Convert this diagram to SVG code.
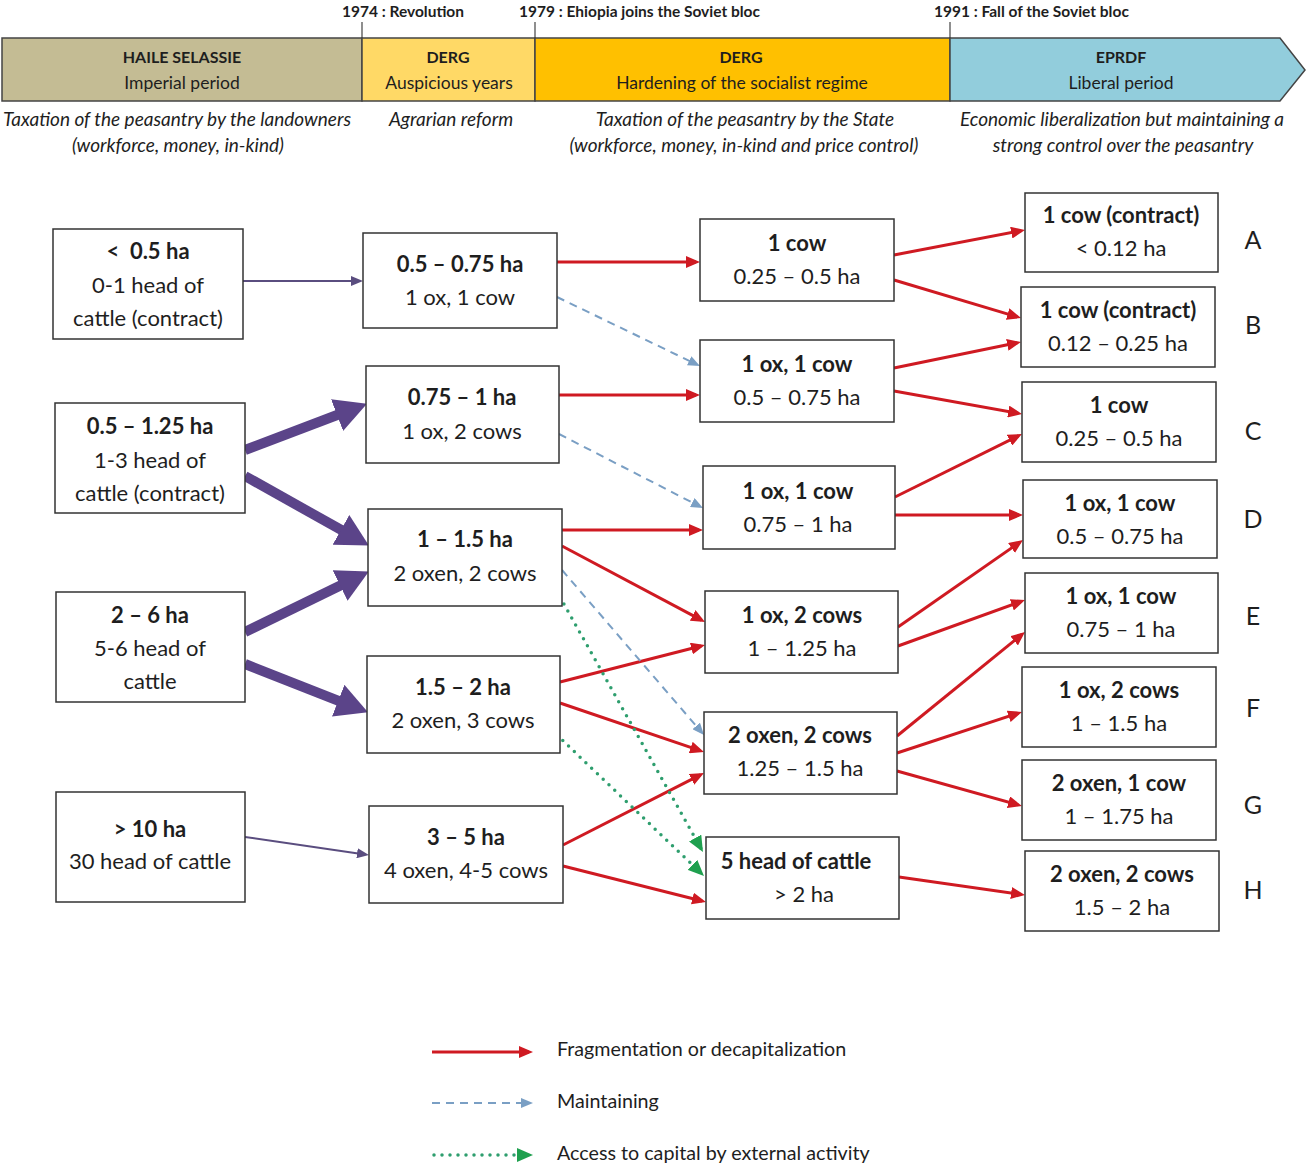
<svg xmlns="http://www.w3.org/2000/svg" width="1307" height="1167" viewBox="0 0 1307 1167">
<style>
text{font-family:Lato,"Open Sans","Liberation Sans",sans-serif;fill:#1e1e1e;text-anchor:middle}
.box{fill:#fff;stroke:#333;stroke-width:1.5}
.b{font-weight:bold;font-size:22px}
.r{font-size:22px}
.band{stroke:#444;stroke-width:1.5}
.bt{font-size:16px;font-weight:bold}
.br{font-size:17.5px}
.it{font-size:19px;font-style:italic}
.yr{font-size:15.5px;font-weight:bold}
.tick{stroke:#444;stroke-width:1.2}
.let{font-size:25px}
.red{stroke:#cf1a22;stroke-width:3;fill:none;marker-end:url(#mr)}
.blue{stroke:#7a9fc4;stroke-width:2;stroke-dasharray:8 6;fill:none;marker-end:url(#mb)}
.green{stroke:#2e9e6e;stroke-width:3.5;stroke-dasharray:0 8;stroke-linecap:round;fill:none;marker-end:url(#mg)}
.pth{stroke:#5a4d7f;stroke-width:2;fill:none;marker-end:url(#mp)}
.pk{stroke:#5b4489;stroke-width:10;fill:none;marker-end:url(#mk)}
.leg{font-size:19.7px;text-anchor:start}
</style>
<defs>
<marker id="mr" markerUnits="userSpaceOnUse" markerWidth="14" markerHeight="12" viewBox="0 0 14 12" refX="10" refY="6" orient="auto"><path d="M0,0 L14,6 L0,12 z" fill="#cf1a22"/></marker>
<marker id="mb" markerUnits="userSpaceOnUse" markerWidth="12" markerHeight="10" viewBox="0 0 12 10" refX="8" refY="5" orient="auto"><path d="M0,0 L12,5 L0,10 z" fill="#7a9fc4"/></marker>
<marker id="mg" markerUnits="userSpaceOnUse" markerWidth="16" markerHeight="14" viewBox="0 0 16 14" refX="12" refY="7" orient="auto"><path d="M0,0 L16,7 L0,14 z" fill="#1fa04f"/></marker>
<marker id="mp" markerUnits="userSpaceOnUse" markerWidth="12" markerHeight="10" viewBox="0 0 12 10" refX="8" refY="5" orient="auto"><path d="M0,0 L12,5 L0,10 z" fill="#5a4d7f"/></marker>
<marker id="mk" markerUnits="userSpaceOnUse" markerWidth="32" markerHeight="34" viewBox="0 0 32 34" refX="10" refY="17" orient="auto"><path d="M0,0 L32,17 L0,34 z" fill="#5b4489"/></marker>
</defs>
<rect width="1307" height="1167" fill="#fff"/>

<g id="timeline">
<line class="tick" x1="362" y1="22" x2="362" y2="38"/>
<line class="tick" x1="535" y1="22" x2="535" y2="38"/>
<line class="tick" x1="950" y1="22" x2="950" y2="38"/>
<text class="yr" x="403" y="17">1974 : Revolution</text>
<text class="yr" x="519" y="17" style="text-anchor:start">1979 : Ehiopia joins the Soviet bloc</text>
<text class="yr" x="934" y="17" style="text-anchor:start">1991 : Fall of the Soviet bloc</text>
<rect class="band" x="2" y="38" width="360" height="63" fill="#c4bc94"/>
<rect class="band" x="362" y="38" width="173" height="63" fill="#ffd966"/>
<rect class="band" x="535" y="38" width="415" height="63" fill="#ffc000"/>
<path class="band" d="M950,38 L1280,38 L1305,70 L1280,101 L950,101 z" fill="#92cddc"/>
<text class="bt" x="182" y="63">HAILE SELASSIE</text>
<text class="br" x="182" y="89">Imperial period</text>
<text class="bt" x="448" y="63">DERG</text>
<text class="br" x="449" y="89">Auspicious years</text>
<text class="bt" x="741" y="63">DERG</text>
<text class="br" x="742" y="89">Hardening of the socialist regime</text>
<text class="bt" x="1121" y="63">EPRDF</text>
<text class="br" x="1121" y="89">Liberal period</text>
<text class="it" x="177" y="126">Taxation of the peasantry by the landowners</text>
<text class="it" x="178" y="152">(workforce, money, in-kind)</text>
<text class="it" x="451" y="126">Agrarian reform</text>
<text class="it" x="745" y="126">Taxation of the peasantry by the State</text>
<text class="it" x="744" y="152">(workforce, money, in-kind and price control)</text>
<text class="it" x="1122" y="126">Economic liberalization but maintaining a</text>
<text class="it" x="1123" y="152">strong control over the peasantry</text>
</g>

<g id="connectors">
<line class="pth" x1="243" y1="281" x2="359" y2="281"/>
<line class="pth" x1="245" y1="837" x2="365" y2="854.4"/>
<line class="pk" x1="245" y1="450" x2="346.4" y2="411.5"/>
<line class="pk" x1="245" y1="476" x2="349.7" y2="534.7"/>
<line class="pk" x1="245" y1="632" x2="349.1" y2="581.2"/>
<line class="pk" x1="245" y1="664" x2="347.5" y2="704.3"/>
<line class="red" x1="557" y1="262" x2="696" y2="262"/>
<line class="red" x1="559" y1="395" x2="696" y2="395"/>
<line class="red" x1="562" y1="530" x2="699" y2="530"/>
<line class="red" x1="562" y1="546" x2="701.5" y2="620.1"/>
<line class="red" x1="560" y1="682" x2="701.1" y2="646"/>
<line class="red" x1="560" y1="703" x2="700.2" y2="750.7"/>
<line class="red" x1="563" y1="845" x2="700.4" y2="774.8"/>
<line class="red" x1="563" y1="866" x2="702.1" y2="901"/>
<line class="red" x1="894" y1="255" x2="1021.1" y2="230.7"/>
<line class="red" x1="894" y1="280" x2="1017.2" y2="316.9"/>
<line class="red" x1="894" y1="368" x2="1017.1" y2="342.8"/>
<line class="red" x1="894" y1="391" x2="1018.1" y2="413.3"/>
<line class="red" x1="895" y1="497" x2="1018.4" y2="435.8"/>
<line class="red" x1="895" y1="515" x2="1019" y2="515"/>
<line class="red" x1="898" y1="627" x2="1019.7" y2="542.3"/>
<line class="red" x1="898" y1="646" x2="1021.2" y2="601.4"/>
<line class="red" x1="897" y1="736" x2="1021.9" y2="634.5"/>
<line class="red" x1="897" y1="753" x2="1018.2" y2="713.2"/>
<line class="red" x1="897" y1="771" x2="1018.1" y2="804.9"/>
<line class="red" x1="899" y1="877" x2="1021" y2="894.4"/>
<line class="blue" x1="557" y1="297" x2="696.4" y2="364.3"/>
<line class="blue" x1="559" y1="434" x2="699.4" y2="506.2"/>
<line class="blue" x1="562" y1="570" x2="701.4" y2="732"/>
<line class="green" x1="560" y1="597" x2="701" y2="848.5"/>
<line class="green" x1="557" y1="735" x2="701.1" y2="873.2"/>
</g>

<g id="n1"><rect class="box" x="53" y="229" width="190" height="110"/><text class="b" x="148" y="259">&lt;&#160; 0.5 ha</text><text class="r" x="148" y="293">0-1 head of</text><text class="r" x="148" y="326">cattle (contract)</text></g>
<g id="n2"><rect class="box" x="55" y="403" width="190" height="110"/><text class="b" x="150" y="434">0.5 – 1.25 ha</text><text class="r" x="150" y="468">1-3 head of</text><text class="r" x="150" y="501">cattle (contract)</text></g>
<g id="n3"><rect class="box" x="56" y="592" width="189" height="110"/><text class="b" x="150" y="623">2 – 6 ha</text><text class="r" x="150" y="656">5-6 head of</text><text class="r" x="150" y="689">cattle</text></g>
<g id="n4"><rect class="box" x="56" y="792" width="189" height="110"/><text class="b" x="150" y="837">&gt; 10 ha</text><text class="r" x="150" y="869">30 head of cattle</text></g>

<g id="m1"><rect class="box" x="363" y="233" width="194" height="95"/><text class="b" x="460" y="272">0.5 – 0.75 ha</text><text class="r" x="460" y="305">1 ox, 1 cow</text></g>
<g id="m2"><rect class="box" x="366" y="366" width="193" height="97"/><text class="b" x="462" y="405">0.75 – 1 ha</text><text class="r" x="462" y="439">1 ox, 2 cows</text></g>
<g id="m3"><rect class="box" x="368" y="509" width="194" height="97"/><text class="b" x="465" y="547">1 – 1.5 ha</text><text class="r" x="465" y="581">2 oxen, 2 cows</text></g>
<g id="m4"><rect class="box" x="367" y="656" width="193" height="97"/><text class="b" x="463" y="695">1.5 – 2 ha</text><text class="r" x="463" y="728">2 oxen, 3 cows</text></g>
<g id="m5"><rect class="box" x="369" y="806" width="194" height="97"/><text class="b" x="466" y="845">3 – 5 ha</text><text class="r" x="466" y="878">4 oxen, 4-5 cows</text></g>

<g id="p1"><rect class="box" x="700" y="219" width="194" height="82"/><text class="b" x="797" y="251">1 cow</text><text class="r" x="797" y="284">0.25 – 0.5 ha</text></g>
<g id="p2"><rect class="box" x="700" y="340" width="194" height="82"/><text class="b" x="797" y="372">1 ox, 1 cow</text><text class="r" x="797" y="405">0.5 – 0.75 ha</text></g>
<g id="p3"><rect class="box" x="703" y="466" width="192" height="83"/><text class="b" x="798" y="499">1 ox, 1 cow</text><text class="r" x="798" y="532">0.75 – 1 ha</text></g>
<g id="p4"><rect class="box" x="705" y="591" width="193" height="82"/><text class="b" x="802" y="623">1 ox, 2 cows</text><text class="r" x="802" y="656">1 – 1.25 ha</text></g>
<g id="p5"><rect class="box" x="704" y="712" width="193" height="82"/><text class="b" x="800" y="743">2 oxen, 2 cows</text><text class="r" x="800" y="776">1.25 – 1.5 ha</text></g>
<g id="p6"><rect class="box" x="706" y="837" width="193" height="82"/><text class="b" x="796" y="869">5 head of cattle</text><text class="r" x="804" y="902">&gt; 2 ha</text></g>

<g id="qA"><rect class="box" x="1025" y="193" width="193" height="79"/><text class="b" x="1121" y="223">1 cow (contract)</text><text class="r" x="1121" y="256">&lt; 0.12 ha</text></g>
<g id="qB"><rect class="box" x="1021" y="287" width="194" height="80"/><text class="b" x="1118" y="318">1 cow (contract)</text><text class="r" x="1118" y="351">0.12 – 0.25 ha</text></g>
<g id="qC"><rect class="box" x="1022" y="382" width="194" height="80"/><text class="b" x="1119" y="413">1 cow</text><text class="r" x="1119" y="446">0.25 – 0.5 ha</text></g>
<g id="qD"><rect class="box" x="1023" y="480" width="194" height="78"/><text class="b" x="1120" y="511">1 ox, 1 cow</text><text class="r" x="1120" y="544">0.5 – 0.75 ha</text></g>
<g id="qE"><rect class="box" x="1025" y="573" width="193" height="80"/><text class="b" x="1121" y="604">1 ox, 1 cow</text><text class="r" x="1121" y="637">0.75 – 1 ha</text></g>
<g id="qF"><rect class="box" x="1022" y="667" width="194" height="80"/><text class="b" x="1119" y="698">1 ox, 2 cows</text><text class="r" x="1119" y="731">1 – 1.5 ha</text></g>
<g id="qG"><rect class="box" x="1022" y="760" width="194" height="80"/><text class="b" x="1119" y="791">2 oxen, 1 cow</text><text class="r" x="1119" y="824">1 – 1.75 ha</text></g>
<g id="qH"><rect class="box" x="1025" y="851" width="194" height="80"/><text class="b" x="1122" y="882">2 oxen, 2 cows</text><text class="r" x="1122" y="915">1.5 – 2 ha</text></g>

<g id="letters">
<text class="let" x="1253" y="249">A</text>
<text class="let" x="1253" y="334">B</text>
<text class="let" x="1253" y="440">C</text>
<text class="let" x="1253" y="528">D</text>
<text class="let" x="1253" y="625">E</text>
<text class="let" x="1253" y="717">F</text>
<text class="let" x="1253" y="814">G</text>
<text class="let" x="1253" y="899">H</text>
</g>

<g id="legend">
<line class="red" x1="432" y1="1052" x2="529" y2="1052"/>
<line class="blue" x1="432" y1="1103" x2="529" y2="1103"/>
<line class="green" x1="434" y1="1155" x2="529" y2="1155"/>
<text class="leg" x="557" y="1056">Fragmentation or decapitalization</text>
<text class="leg" x="557" y="1108">Maintaining</text>
<text class="leg" x="557" y="1160">Access to capital by external activity</text>
</g>
</svg>
